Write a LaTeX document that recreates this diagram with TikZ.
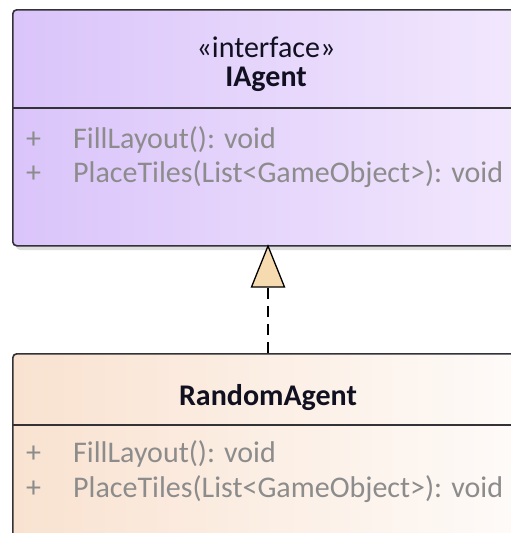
\documentclass[tikz,border=0pt]{standalone}
\usepackage{fontspec}
\setmainfont{Carlito}
\usetikzlibrary{calc}

\definecolor{ifaceL}{RGB}{218,196,250}
\definecolor{ifaceR}{RGB}{242,232,253}
\definecolor{classL}{RGB}{249,226,208}
\definecolor{classR}{RGB}{254,251,249}
\definecolor{edge}{RGB}{50,50,55}
\definecolor{titletext}{RGB}{16,16,32}
\definecolor{membertext}{RGB}{140,140,140}
\definecolor{tipfill}{RGB}{246,218,176}

\tikzset{
  umlbox/.style={draw=edge, line width=1.6pt, rounded corners=4pt, anchor=north west,
    minimum width=512pt, inner sep=0pt},
  shadowbox/.style={fill=black, opacity=0.13, rounded corners=4pt},
  divider/.style={draw=edge, line width=1.4pt},
  title/.style={font=\fontsize{30}{36}\selectfont\bfseries, text=titletext, anchor=base},
  stereo/.style={font=\fontsize{30}{36}\selectfont, text=titletext, anchor=base},
  member/.style={font=\fontsize{30}{36}\selectfont, text=membertext, anchor=base west, inner sep=0pt},
  realizes/.style={draw=black, line width=1.4pt, dash pattern=on 11pt off 7pt},
  hollowtip/.style={draw=black, line width=1.3pt, fill=tipfill, line join=miter},
}

\begin{document}
\begin{tikzpicture}[x=1pt, y=-1pt]
  \useasboundingbox (0,0) rectangle (511,533);
  \clip (0,0) rectangle (511,533);

  % soft drop shadows
  \fill[shadowbox] (16,14) rectangle (530,250);
  \fill[shadowbox] (16,358) rectangle (530,600);

  % interface IAgent
  \node[umlbox, minimum height=236pt, left color=ifaceL, right color=ifaceR] (iagent) at (12,9) {};
  \draw[divider] (iagent.west |- 0,108) -- (iagent.east |- 0,108);
  \node[stereo] (iagentstereo) at (266,57) {«interface»};
  \node[title] (iagenttitle) at (266,86) {IAgent};
  \node[member] (iagentp1) at (26,148) {+};
  \node[member] (iagentm1) at (73,148) {FillLayout(): void};
  \node[member] (iagentp2) at (26,182) {+};
  \node[member] (iagentm2) at (73,182) {PlaceTiles(List<GameObject>): void};

  % class RandomAgent
  \node[umlbox, minimum height=240pt, left color=classL, right color=classR] (random) at (12,353) {};
  \draw[divider] (random.west |- 0,425) -- (random.east |- 0,425);
  \node[title] (randomtitle) at (268,405) {RandomAgent};
  \node[member] (randomp1) at (26,462) {+};
  \node[member] (randomm1) at (73,462) {FillLayout(): void};
  \node[member] (randomp2) at (26,497) {+};
  \node[member] (randomm2) at (73,497) {PlaceTiles(List<GameObject>): void};

  % realization: dashed line with hollow triangle head
  \coordinate (apex) at (268,246);
  \coordinate (tipbase) at ($(apex)+(0,41)$);
  \draw[realizes] (random.north -| apex) -- (tipbase);
  \draw[hollowtip] (apex) -- ++(-16.5,41) -- ++(33,0) -- cycle;
\end{tikzpicture}
\end{document}
